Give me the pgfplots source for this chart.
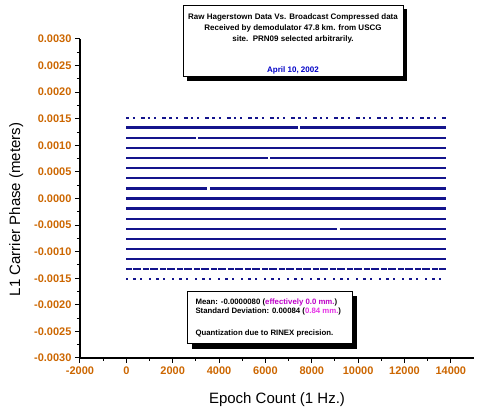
\documentclass[border=0pt]{standalone}
\usepackage{fontspec}
\setmainfont{Liberation Sans}
\usepackage{pgfplots}
\pgfplotsset{compat=1.18}

\definecolor{tickorange}{RGB}{204,102,0}
\definecolor{levelblue}{RGB}{20,20,140}
\definecolor{dateblue}{RGB}{0,0,200}
\definecolor{magA}{RGB}{190,0,200}
\definecolor{magB}{RGB}{230,50,230}

\begin{document}
\begin{tikzpicture}
\useasboundingbox (-80pt,-53pt) rectangle (402pt,358pt);
\begin{axis}[
    scale only axis,
    width=394pt, height=319pt,
    xmin=-2000, xmax=15000,
    ymin=-0.003, ymax=0.003,
    axis lines=left,
    axis line style={-, line width=1.2pt},
    xtick={-2000,0,...,14000},
    ytick={-0.003,-0.0025,...,0.0031},
    minor x tick num=1,
    minor y tick num=1,
    tick align=outside,
    major tick length=5pt,
    minor tick length=3pt,
    every tick/.style={black, line width=1pt},
    scaled y ticks=false,
    scaled x ticks=false,
    /pgf/number format/assume math mode=true,
    x tick label style={/pgf/number format/1000 sep={}},
    y tick label style={/pgf/number format/.cd, fixed, fixed zerofill, precision=4},
    tick label style={font=\fontsize{11}{13}\selectfont\bfseries, text=tickorange},
    xlabel={Epoch Count (1 Hz.)},
    ylabel={L1 Carrier Phase (meters)},
    every axis x label/.style={at={(axis description cs:0.5,-0.132)}, anchor=center,
        font=\fontsize{15}{18}\selectfont},
    every axis y label/.style={at={(axis description cs:-0.162,0.466)}, rotate=90, anchor=center,
        font=\fontsize{15}{18}\selectfont},
    unbounded coords=jump,
    clip=false,
]
% quantized levels: multiples of 0.001 cycle of L1 (0.00019029 m)
\addplot[levelblue, line width=2pt, dash pattern=on 2.5pt off 4pt on 2pt off 6pt on 4pt off 3pt]
  coordinates {(0,0.00152232) (13800,0.00152232)};
\addplot[levelblue, line width=2.4pt]
  coordinates {(0,0.00133203) (7400,0.00133203) (nan,nan) (7500,0.00133203) (13800,0.00133203)};
\addplot[levelblue, line width=2.4pt]
  coordinates {(0,0.00114174) (3000,0.00114174) (nan,nan) (3100,0.00114174) (13800,0.00114174)};
\addplot[levelblue, line width=2.4pt]
  coordinates {(0,0.00095145) (13800,0.00095145)};
\addplot[levelblue, line width=2.4pt]
  coordinates {(0,0.00076116) (6100,0.00076116) (nan,nan) (6200,0.00076116) (13800,0.00076116)};
\addplot[levelblue, line width=2.4pt]
  coordinates {(0,0.00057087) (13800,0.00057087)};
\addplot[levelblue, line width=2.4pt]
  coordinates {(0,0.00038058) (13800,0.00038058)};
\addplot[levelblue, line width=2.4pt]
  coordinates {(0,0.00019029) (3500,0.00019029) (nan,nan) (3600,0.00019029) (13800,0.00019029)};
\addplot[levelblue, line width=2.4pt]
  coordinates {(0,0) (13800,0)};
\addplot[levelblue, line width=2.4pt]
  coordinates {(0,-0.00019029) (13800,-0.00019029)};
\addplot[levelblue, line width=2.4pt]
  coordinates {(0,-0.00038058) (13800,-0.00038058)};
\addplot[levelblue, line width=2.4pt]
  coordinates {(0,-0.00057087) (9100,-0.00057087) (nan,nan) (9200,-0.00057087) (13800,-0.00057087)};
\addplot[levelblue, line width=2.4pt]
  coordinates {(0,-0.00076116) (13800,-0.00076116)};
\addplot[levelblue, line width=2.4pt]
  coordinates {(0,-0.00095145) (13800,-0.00095145)};
\addplot[levelblue, line width=2.4pt]
  coordinates {(0,-0.00114174) (13800,-0.00114174)};
\addplot[levelblue, line width=2.2pt, dash pattern=on 6pt off 1pt on 8pt off 2pt]
  coordinates {(0,-0.00133203) (13800,-0.00133203)};
\addplot[levelblue, line width=2pt, dash pattern=on 2pt off 5pt on 3pt off 4pt on 2pt off 7pt]
  coordinates {(0,-0.00152232) (13800,-0.00152232)};
\end{axis}

% title box
\fill[black] (107pt,277pt) rectangle (327pt,349pt);
\draw[fill=white, line width=0.8pt] (103pt,282pt) rectangle (323pt,353pt);
\node[font=\fontsize{8}{11}\selectfont\bfseries, align=center] at (213pt,330pt)
  {Raw Hagerstown Data Vs. Broadcast Compressed data\\
   Received by demodulator 47.8 km. from USCG\\
   site.\ \ PRN09 selected arbitrarily.};
\node[font=\fontsize{8}{10}\selectfont\bfseries, text=dateblue] at (213pt,288pt) {April 10, 2002};

% statistics box
\fill[black] (112pt,9pt) rectangle (277pt,62pt);
\draw[fill=white, line width=0.8pt] (107pt,15pt) rectangle (272pt,67pt);
\node[font=\fontsize{7.8}{9}\selectfont\bfseries, anchor=west] at (112pt,56pt)
  {Mean: -0.0000080 (\textcolor{magA}{effectively 0.0 mm.})};
\node[font=\fontsize{7.8}{9}\selectfont\bfseries, anchor=west] at (112pt,47pt)
  {Standard Deviation: 0.00084 (\textcolor{magB}{0.84 mm.})};
\node[font=\fontsize{7.8}{9}\selectfont\bfseries, anchor=west] at (112pt,25pt)
  {Quantization due to RINEX precision.};
\end{tikzpicture}
\end{document}
